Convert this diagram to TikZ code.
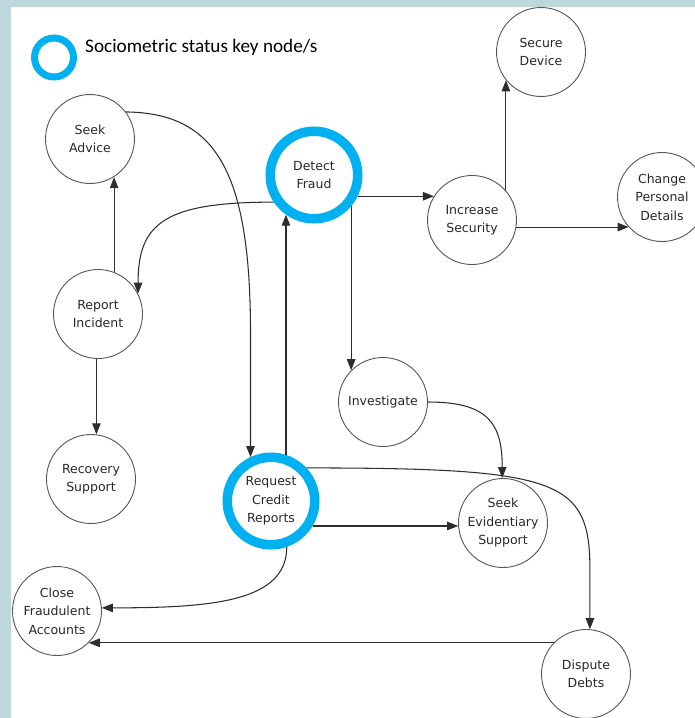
\documentclass[tikz,border=0pt]{standalone}
\usepackage{fontspec}
\newfontfamily\nodefont{DejaVu Sans}
\newfontfamily\legendfont{Carlito}
\usetikzlibrary{arrows.meta}
\definecolor{bordercol}{RGB}{190,215,218}
\definecolor{keyblue}{RGB}{0,176,240}
\definecolor{linecol}{RGB}{45,45,45}
\definecolor{nodecol}{RGB}{85,85,85}
\definecolor{textcol}{RGB}{40,40,40}
\begin{document}
\begin{tikzpicture}[x=1pt,y=-1pt,
  state/.style={circle, draw=nodecol, line width=0.9pt, minimum size=89pt, inner sep=0pt,
    align=center, text=textcol, font=\nodefont\fontsize{12.5}{18.5}\selectfont},
  keystate/.style={state, draw=keyblue, line width=9.5pt, minimum size=87.5pt},
  arr/.style={draw=linecol, line width=1.05pt, -{Triangle[length=11pt,width=8.5pt]}},
]
\useasboundingbox (0,0) rectangle (695,718);
\clip (0,0) rectangle (695,718);
\fill[bordercol] (0,0) rectangle (695,718);
\fill[white] (11,7) rectangle (695,718);

% legend
\node[circle, draw=keyblue, line width=7pt, minimum size=39pt, inner sep=0pt] (key) at (54,57.5) {};
\node[anchor=base west, inner sep=0pt, text=black, font=\legendfont\fontsize{19.2}{22}\selectfont] (legendtext) at (85,52) {Sociometric status key node/s};

% nodes
\node[state] (seekadvice) at (90,139) {Seek\\Advice};
\node[keystate] (detect) at (314,175) {Detect\\Fraud};
\node[state] (report) at (98,314) {Report\\Incident};
\node[state] (recovery) at (91,479) {Recovery\\Support};
\node[keystate] (request) at (271,501) {Request\\Credit\\Reports};
\node[state] (close) at (57,611) {Close\\Fraudulent\\Accounts};
\node[state] (secure) at (541,52) {Secure\\Device};
\node[state] (increase) at (472,220) {Increase\\Security};
\node[state] (change) at (662,197) {Change\\Personal\\Details};
\node[state] (investigate) at (383,402) {Investigate};
\node[state] (seekevid) at (503,523) {Seek\\Evidentiary\\Support};
\node[state] (dispute) at (586,674) {Dispute\\Debts};

% connectors
\draw[arr] (report.69) -- (report.69 |- seekadvice.-58);
\draw[arr] (seekadvice.37) .. controls (215,113) and (250,170) .. (request.115 |- 0,330) -- (request.115);
\draw[arr] (detect.214) .. controls +(-110,0) and +(0,-70) .. (report.27);
\draw[arr] (request.72) -- (request.72 |- detect.-125);
\draw[arr] (detect.-26) -- (detect.-26 -| increase.148);
\draw[arr] (detect.-40) -- (detect.-40 |- investigate.135);
\draw[arr] (increase.41) -- (increase.41 |- secure.-141);
\draw[arr] (increase.-9) -- (increase.-9 -| change.-138);
\draw[arr] (report.-92) -- (report.-92 |- recovery.84);
\draw[arr] (request.-31) -- (request.-31 -| seekevid.184);
\draw[arr] (request.-71) .. controls +(0,55) and +(110,0) .. (close.4);
\draw[arr] (request.43) .. controls (560,468) and (590,480) .. (dispute.85 |- 0,570) -- (dispute.85);
\draw[arr] (investigate.0) .. controls +(60,0) and +(0,-55) .. (seekevid.91);
\draw[arr] (dispute.136) -- (dispute.136 -| close.-45);
\end{tikzpicture}
\end{document}
